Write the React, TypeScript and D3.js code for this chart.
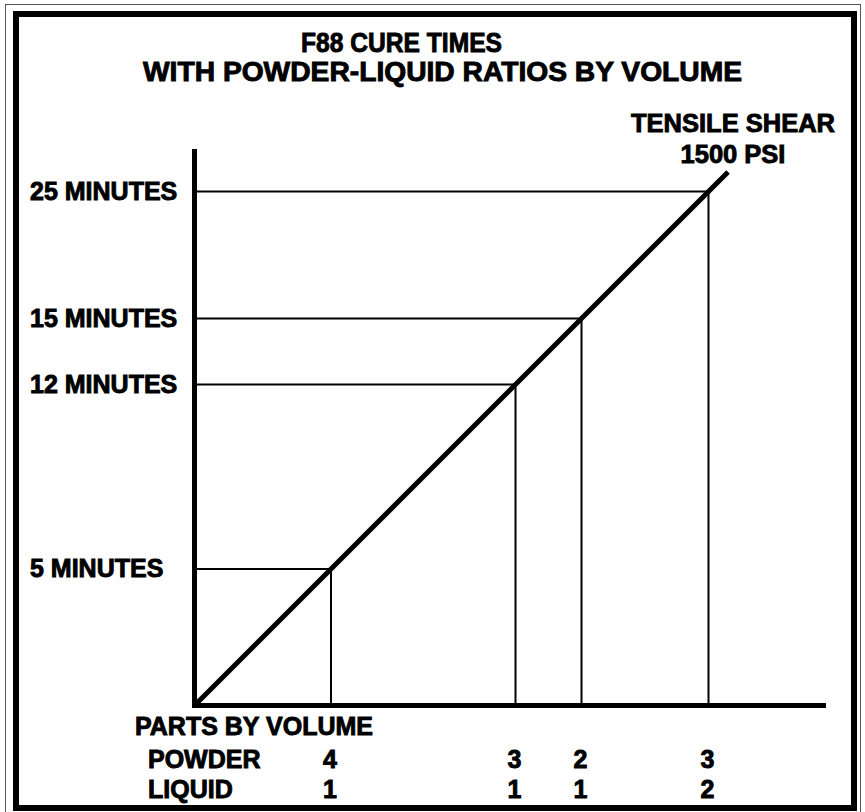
import React from "react";
import * as d3 from "d3";

// ---- data ----
const MINUTES = [5, 12, 15, 25];
const MINUTE_LABELS = ["5 MINUTES", "12 MINUTES", "15 MINUTES", "25 MINUTES"];
const POWDER = [4, 3, 2, 3];
const LIQUID = [1, 1, 1, 2];
const TITLE = ["F88 CURE TIMES", "WITH POWDER-LIQUID RATIOS BY VOLUME"];
const LINE_LABEL = ["TENSILE SHEAR", "1500 PSI"];
const LINE_END_MINUTES = 26.54;

const W = 865;
const H = 812;
const FONT = "'Liberation Sans', Arial, Helvetica, sans-serif";

export default function App() {
  // schematic (non-linear) cure-time scale along the 45° line
  const u = d3
    .scaleLinear()
    .domain([0, 5, 12, 15, 25])
    .range([0, 136.5, 321, 387, 514]);
  const ox = 194.5;
  const oy = 705.5;
  const x = (m: number) => ox + u(m);
  const y = (m: number) => oy - u(m);

  const diag = d3.line<number>().x((m) => x(m)).y((m) => y(m));
  const textStroke = { stroke: "#000", strokeWidth: 0.9 };

  return (
    <svg
      width={W}
      height={H}
      style={{ position: "absolute", left: 0, top: 0, background: "#fff" }}
      fontFamily={FONT}
      fontWeight="bold"
    >
      <rect x={0} y={0} width={W} height={H} fill="#fff" />
      {/* frame */}
      <rect x={5.5} y={4.5} width={855} height={820} fill="none" stroke="#555" strokeWidth={1} />
      <rect x={16} y={14} width={838} height={794} fill="none" stroke="#000" strokeWidth={6} />

      <g {...textStroke}>
        {/* title */}
        <text x={301} y={52} fontSize={27} textLength={201} lengthAdjust="spacingAndGlyphs">{TITLE[0]}</text>
        <text x={143} y={81} fontSize={27} textLength={599} lengthAdjust="spacingAndGlyphs">{TITLE[1]}</text>

        <text x={733} y={132} textAnchor="middle" fontSize={25.5}>{LINE_LABEL[0]}</text>
        <text x={733} y={163} textAnchor="middle" fontSize={25.5}>{LINE_LABEL[1]}</text>

        {/* y labels */}
        {MINUTES.map((m, i) => (
          <text key={i} x={30} y={y(m) + 8} fontSize={25}>{MINUTE_LABELS[i]}</text>
        ))}

        {/* x labels */}
        <text x={135} y={735} fontSize={25}>PARTS BY VOLUME</text>
        <text x={148} y={768} fontSize={25}>POWDER</text>
        <text x={148} y={798} fontSize={25}>LIQUID</text>
        {MINUTES.map((m, i) => (
          <g key={i}>
            <text x={x(m) - 1} y={768} textAnchor="middle" fontSize={25}>{POWDER[i]}</text>
            <text x={x(m) - 1} y={798} textAnchor="middle" fontSize={25}>{LIQUID[i]}</text>
          </g>
        ))}
      </g>

      {/* guide lines */}
      {MINUTES.map((m, i) => (
        <g key={i}>
          <line x1={ox} x2={x(m)} y1={y(m)} y2={y(m)} stroke="#000" strokeWidth={2} />
          <line x1={x(m)} x2={x(m)} y1={y(m)} y2={oy} stroke="#000" strokeWidth={2} />
        </g>
      ))}

      {/* axes */}
      <line x1={ox} x2={ox} y1={149} y2={oy + 2.5} stroke="#000" strokeWidth={5} />
      <line x1={ox - 2.5} x2={826} y1={oy} y2={oy} stroke="#000" strokeWidth={5} />

      {/* tensile shear line */}
      <path d={diag([0, LINE_END_MINUTES]) || ""} stroke="#000" strokeWidth={5} fill="none" />
    </svg>
  );
}
